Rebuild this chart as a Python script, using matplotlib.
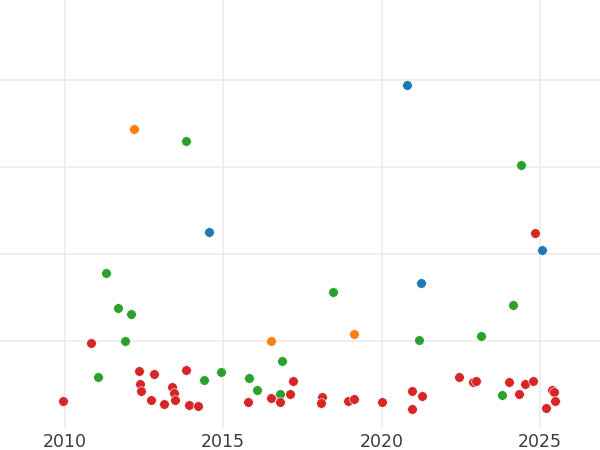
import numpy as np
import matplotlib
matplotlib.use("Agg")
import matplotlib.pyplot as plt

# values (x = year, y = value in gridline units)
blue_x = [2020.79, 2014.56, 2021.26, 2025.06]
blue_y = [3.94, 2.25, 1.66, 2.04]

orange_x = [2012.17, 2016.50, 2019.13]
orange_y = [3.43, 1.00, 1.08]

green_x = [2013.81, 2024.40, 2011.30, 2011.68, 2012.08, 2011.90, 2011.03, 2014.40,
           2014.94, 2015.82, 2016.06, 2016.85, 2016.79, 2018.48, 2021.18, 2023.14,
           2024.16, 2023.80]
green_y = [3.30, 3.02, 1.78, 1.38, 1.31, 1.00, 0.58, 0.55,
           0.64, 0.57, 0.43, 0.76, 0.38, 1.56, 1.01, 1.05,
           1.41, 0.37]

red_x = [2009.95, 2010.81, 2012.35, 2012.82, 2012.36, 2012.41, 2012.73, 2013.14,
         2013.39, 2013.44, 2013.49, 2013.81, 2013.93, 2014.21, 2015.79, 2016.50,
         2016.79, 2017.10, 2017.19, 2018.11, 2018.09, 2018.95, 2019.13, 2020.03,
         2020.95, 2020.95, 2021.29, 2022.45, 2022.89, 2022.97, 2024.04, 2024.34,
         2024.52, 2024.79, 2024.85, 2025.21, 2025.39, 2025.44, 2025.49]
red_y = [0.31, 0.97, 0.65, 0.62, 0.50, 0.42, 0.32, 0.27,
         0.47, 0.40, 0.32, 0.66, 0.26, 0.25, 0.29, 0.34,
         0.29, 0.38, 0.54, 0.35, 0.28, 0.30, 0.33, 0.29,
         0.42, 0.21, 0.36, 0.58, 0.52, 0.53, 0.52, 0.39,
         0.50, 0.54, 2.24, 0.22, 0.43, 0.41, 0.31]

year_ticks = [2010, 2015, 2020, 2025]

fig = plt.figure(figsize=(6, 4.5), dpi=100)
ax = fig.add_axes([0, 0.05, 1, 0.95])

series = [(blue_x, blue_y, "#1f77b4"), (orange_x, orange_y, "#ff7f0e"),
          (green_x, green_y, "#2ca02c"), (red_x, red_y, "#d62728")]
for xs, ys, c in series:
    ax.scatter(xs, ys, s=48, color=c, edgecolor="white", linewidth=0.4, zorder=3)

ax.set_xlim(2007.95, 2026.9)
ax.set_ylim(0, 4.92)
ax.set_xticks(year_ticks)
ax.set_xticklabels([str(y) for y in year_ticks])
ax.set_yticks([1, 2, 3, 4])
ax.set_yticklabels([])
ax.grid(True, color="#ebebeb", linewidth=1.1, zorder=0)
ax.set_axisbelow(True)
for s in ax.spines.values():
    s.set_visible(False)
ax.tick_params(axis="both", length=0, pad=4, labelsize=12.5, labelcolor="#3c3c3c")

fig.savefig("out.png", dpi=100)
